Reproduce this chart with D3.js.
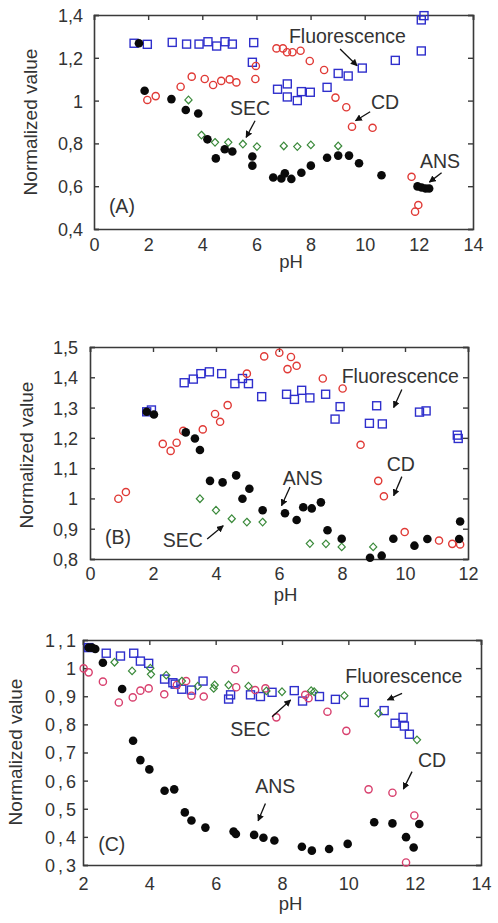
<!DOCTYPE html>
<html><head><meta charset="utf-8">
<script src="https://cdn.jsdelivr.net/npm/d3@7"></script>
<style>
html,body{margin:0;padding:0;background:#fff;}
svg{display:block;font-family:"Liberation Sans",Arial,sans-serif;}
</style></head>
<body>
<svg id="chart" width="498" height="923"></svg>
<script>
// ---------- DATA (pH, normalized value) ----------
// Panel A
const fluorA = [[1.48,1.268],[1.97,1.263],[2.89,1.272],[3.42,1.264],[3.88,1.264],[4.21,1.275],[4.53,1.255],[4.84,1.275],[5.11,1.264],[5.90,1.271],[5.85,1.179],[6.78,1.053],[7.14,1.078],[7.14,1.017],[7.66,1.042],[7.99,1.039],[7.51,1.000],[8.61,1.062],[9.02,1.127],[9.39,1.115],[9.91,1.152],[11.13,1.188],[12.09,1.232],[12.09,1.377],[12.19,1.397]];
const cdA = [[1.97,1.003],[2.28,1.021],[3.20,1.065],[3.61,1.112],[4.09,1.101],[4.40,1.073],[4.70,1.092],[5.01,1.099],[5.26,1.085],[5.98,1.162],[5.96,1.101],[6.74,1.244],[6.98,1.244],[7.13,1.226],[7.33,1.226],[7.63,1.233],[7.97,1.185],[8.50,1.143],[8.92,1.014],[9.32,0.969],[9.53,0.878],[10.29,0.873],[11.73,0.644],[11.98,0.512],[11.86,0.481]];
const secA = [[3.49,1.003],[3.97,0.839],[4.47,0.805],[4.96,0.805],[5.50,0.797],[6.02,0.785],[7.01,0.788],[7.51,0.785],[8.01,0.793],[9.02,0.788]];
const ansA = [[1.66,1.268],[1.87,1.046],[2.86,1.007],[3.39,0.956],[3.85,0.940],[4.19,0.819],[4.50,0.730],[4.83,0.773],[5.11,0.762],[5.85,0.739],[5.85,0.696],[6.62,0.641],[6.92,0.636],[7.05,0.660],[7.29,0.634],[7.66,0.663],[8.01,0.696],[8.61,0.733],[9.02,0.743],[9.42,0.743],[9.79,0.707],[10.62,0.651],[11.95,0.599],[12.10,0.594],[12.25,0.589],[12.38,0.589]];
// Panel B
const fluorB = [[1.80,1.286],[1.95,1.292],[2.99,1.382],[3.28,1.394],[3.52,1.412],[3.79,1.418],[4.18,1.412],[4.60,1.379],[4.84,1.396],[5.03,1.379],[5.45,1.336],[6.24,1.344],[6.49,1.327],[6.72,1.357],[6.98,1.332],[7.48,1.344],[7.94,1.303],[7.78,1.262],[9.10,1.306],[8.87,1.248],[9.28,1.246],[10.46,1.285],[10.67,1.289],[11.66,1.209],[11.69,1.198]];
const cdB = [[0.90,0.999],[1.14,1.021],[2.31,1.180],[2.56,1.157],[2.75,1.184],[2.96,1.223],[3.58,1.228],[3.97,1.279],[4.13,1.253],[4.37,1.308],[4.98,1.412],[5.53,1.469],[6.01,1.481],[6.38,1.467],[6.27,1.427],[6.56,1.438],[7.39,1.396],[8.02,1.363],[8.59,1.177],[9.15,1.058],[9.33,1.007],[9.99,0.889],[11.08,0.861],[11.50,0.850],[11.75,0.848]];
const secB = [[3.49,0.999],[4.00,0.961],[4.50,0.933],[4.98,0.922],[5.48,0.922],[6.98,0.851],[7.49,0.850],[7.99,0.840],[8.99,0.840]];
const ansB = [[1.80,1.286],[2.03,1.277],[3.04,1.218],[3.33,1.198],[3.49,1.160],[3.81,1.058],[4.21,1.053],[4.64,1.076],[4.84,0.999],[5.06,1.032],[5.48,0.961],[6.19,0.951],[6.56,0.929],[6.77,0.971],[7.04,0.967],[7.33,0.987],[7.54,0.895],[7.99,0.867],[8.89,0.804],[9.26,0.811],[9.63,0.867],[10.30,0.844],[10.71,0.866],[11.72,0.866],[11.75,0.924]];
// Panel C
const fluorC = [[2.17,1.073],[2.70,1.053],[3.13,1.043],[3.53,1.053],[3.73,1.025],[3.98,1.017],[4.46,0.961],[4.71,0.948],[4.78,0.943],[4.98,0.925],[5.27,0.922],[5.62,0.954],[6.39,0.890],[6.45,0.905],[7.05,0.905],[7.35,0.899],[7.70,0.914],[8.37,0.920],[8.62,0.883],[9.13,0.899],[9.61,0.889],[10.48,0.878],[11.08,0.849],[11.41,0.804],[11.65,0.825],[11.69,0.794],[11.84,0.765]];
const cdC = [[2.02,0.999],[2.17,0.985],[2.60,0.952],[3.08,0.878],[3.50,0.896],[3.73,0.920],[3.98,0.928],[4.45,0.907],[4.83,0.940],[5.11,0.954],[5.27,0.902],[5.64,0.899],[6.59,0.996],[6.62,0.932],[7.19,0.922],[7.50,0.928],[7.83,0.825],[8.70,0.905],[8.80,0.893],[9.37,0.845],[9.94,0.777],[10.61,0.569],[11.33,0.557],[11.99,0.476],[11.74,0.309]];
const secC = [[2.95,1.021],[3.48,0.990],[4.03,1.000],[4.05,0.978],[4.51,0.975],[4.98,0.954],[5.46,0.936],[5.94,0.928],[5.97,0.940],[6.39,0.940],[6.99,0.936],[7.53,0.919],[8.00,0.916],[8.88,0.920],[8.97,0.916],[9.88,0.902],[10.91,0.839],[12.07,0.745]];
const ansC = [[2.17,1.073],[2.27,1.073],[2.37,1.068],[2.60,1.019],[3.18,0.926],[3.51,0.742],[3.73,0.673],[4.00,0.640],[4.46,0.564],[4.75,0.569],[5.07,0.487],[5.27,0.458],[5.69,0.433],[6.54,0.419],[6.61,0.410],[7.16,0.407],[7.44,0.397],[7.77,0.387],[8.60,0.365],[8.90,0.351],[9.42,0.357],[9.98,0.375],[10.78,0.452],[11.33,0.448],[11.74,0.399],[11.97,0.362],[12.14,0.446]];

// tick values
const xTicksA = [0,2,4,6,8,10,12,14];
const yTicksA = [0.4,0.6,0.8,1.0,1.2,1.4];
const xTicksB = [0,2,4,6,8,10,12];
const yTicksB = [0.8,0.9,1.0,1.1,1.2,1.3,1.4,1.5];
const xTicksC = [2,4,6,8,10,12,14];
const yTicksC = [0.3,0.4,0.5,0.6,0.7,0.8,0.9,1.0,1.1];

// annotation texts: [label, text x, text y, arrow from x,y, arrow to x,y] in data units
const notesA = [["Fluorescence",7.20,1.271,9.09,1.241,9.72,1.163],["SEC",5.02,0.933,5.95,0.906,5.62,0.828],["CD",10.23,0.961,10.20,0.948,9.66,0.906],["ANS",12.04,0.685,12.84,0.663,12.39,0.619],["(A)",0.55,0.475]];
const notesB = [["SEC",2.31,0.838,3.72,0.866,4.23,0.910],["ANS",6.12,1.043,6.35,1.038,6.08,0.976],["Fluorescence",7.99,1.382,9.90,1.360,9.64,1.300],["CD",9.42,1.092,9.90,1.072,9.64,1.009],["(B)",0.48,0.848]];
const notesC = [["SEC",6.44,0.759,7.70,0.827,8.26,0.887],["Fluorescence",9.91,0.946,11.62,0.910,11.18,0.887],["CD",12.10,0.650,11.92,0.632,11.66,0.570],["ANS",7.19,0.555,7.50,0.519,7.28,0.457],["(C)",2.46,0.351]];

// ---------- DRAW ----------
const svg = d3.select("#chart");
const fmt = v => String(+v.toFixed(1)).replace(".", ",");
const axisCol = "#3a3a3a", textCol = "#333";

const panels = [
  {xd:[0,14], xr:[94,473], yd:[0.4,1.4], yr:[229,15], xt:xTicksA, yt:yTicksA,
   fl:fluorA, cd:cdA, sec:secA, ans:ansA, notes:notesA, cdCol:"#e03a36",
   xlabY:22, ylabGap:11, yls:0, pH:[291,268], ylab:[37,122]},
  {xd:[0,12], xr:[90,468], yd:[0.8,1.5], yr:[559,347], xt:xTicksB, yt:yTicksB,
   fl:fluorB, cd:cdB, sec:secB, ans:ansB, notes:notesB, cdCol:"#e03a36",
   xlabY:21, ylabGap:12, yls:0, pH:[285.5,601], ylab:[33,455]},
  {xd:[2,14], xr:[83,481], yd:[0.3,1.1], yr:[865,640], xt:xTicksC, yt:yTicksC,
   fl:fluorC, cd:cdC, sec:secC, ans:ansC, notes:notesC, cdCol:"#d8406e",
   xlabY:25, ylabGap:4, yls:3, pH:[290.5,910], ylab:[22,752]}
];

const defs = svg.append("defs");
defs.append("marker").attr("id","ah").attr("viewBox","0 0 10 10").attr("refX",9).attr("refY",5)
  .attr("markerWidth",7).attr("markerHeight",7).attr("markerUnits","userSpaceOnUse").attr("orient","auto")
  .append("path").attr("d","M0,0 L10,5 L0,10 Z").attr("fill","#111");

panels.forEach(p => {
  const x = d3.scaleLinear().domain(p.xd).range(p.xr);
  const y = d3.scaleLinear().domain(p.yd).range(p.yr);
  const g = svg.append("g");
  const tl = 5;

  // axes: inward ticks on top, left, right; labels on bottom/left
  const bottom = g.append("g").attr("transform",`translate(0,${p.yr[0]})`)
    .call(d3.axisBottom(x).tickValues(p.xt).tickSize(0).tickPadding(0).tickFormat(fmt));
  const left = g.append("g").attr("transform",`translate(${p.xr[0]},0)`)
    .call(d3.axisLeft(y).tickValues(p.yt).tickSize(-tl).tickPadding(0).tickFormat(fmt));
  const right = g.append("g").attr("transform",`translate(${p.xr[1]},0)`)
    .call(d3.axisRight(y).tickValues(p.yt).tickSize(-tl).tickFormat(""));
  const top = g.append("g").attr("transform",`translate(0,${p.yr[1]})`)
    .call(d3.axisTop(x).tickValues(p.xt).tickSize(-tl).tickFormat(""));
  [bottom,left,right,top].forEach(a => {
    a.select(".domain").attr("stroke",axisCol).attr("stroke-width",1.6);
    a.selectAll(".tick line").attr("stroke",axisCol).attr("stroke-width",1.4);
  });
  bottom.selectAll(".tick text").attr("y",p.xlabY).attr("dy",0).attr("font-size",18)
    .attr("fill",textCol).attr("font-family","Liberation Sans, Arial, sans-serif");
  left.selectAll(".tick text").attr("x",-p.ylabGap).attr("dy","0.36em").attr("font-size",18)
    .attr("letter-spacing",p.yls).attr("fill",textCol).attr("font-family","Liberation Sans, Arial, sans-serif");

  // axis titles
  g.append("text").attr("x",p.pH[0]).attr("y",p.pH[1]).attr("text-anchor","middle")
    .attr("font-size",18.5).attr("fill",textCol).text("pH");
  g.append("text").attr("transform",`translate(${p.ylab[0]},${p.ylab[1]}) rotate(-90)`)
    .attr("text-anchor","middle").attr("font-size",19).attr("fill",textCol).text("Normalized value");

  // Fluorescence: open blue squares
  g.append("g").selectAll("rect").data(p.fl).join("rect")
    .attr("x",d=>x(d[0])-4).attr("y",d=>y(d[1])-4).attr("width",8).attr("height",8)
    .attr("fill","none").attr("stroke","#2f2fcc").attr("stroke-width",1.4);
  // CD: open red circles
  g.append("g").selectAll("circle").data(p.cd).join("circle")
    .attr("cx",d=>x(d[0])).attr("cy",d=>y(d[1])).attr("r",3.6)
    .attr("fill","none").attr("stroke",p.cdCol).attr("stroke-width",1.4);
  // SEC: open green diamonds
  g.append("g").selectAll("path").data(p.sec).join("path")
    .attr("transform",d=>`translate(${x(d[0])},${y(d[1])})`)
    .attr("d","M0,-3.8 L3.6,0 L0,3.8 L-3.6,0 Z")
    .attr("fill","none").attr("stroke","#3b8a3b").attr("stroke-width",1.2);
  // ANS: filled black
  g.append("g").selectAll("circle").data(p.ans).join("circle")
    .attr("cx",d=>x(d[0])).attr("cy",d=>y(d[1])).attr("r",4.3).attr("fill","#0a0a0a");

  // annotations
  p.notes.forEach(n => {
    g.append("text").attr("x",x(n[1])).attr("y",y(n[2])).attr("font-size",19.5)
      .attr("fill",textCol).text(n[0]);
    if (n.length > 3) {
      g.append("line").attr("x1",x(n[3])).attr("y1",y(n[4])).attr("x2",x(n[5])).attr("y2",y(n[6]))
        .attr("stroke","#111").attr("stroke-width",1.3).attr("marker-end","url(#ah)");
    }
  });
});
</script>
</body></html>
